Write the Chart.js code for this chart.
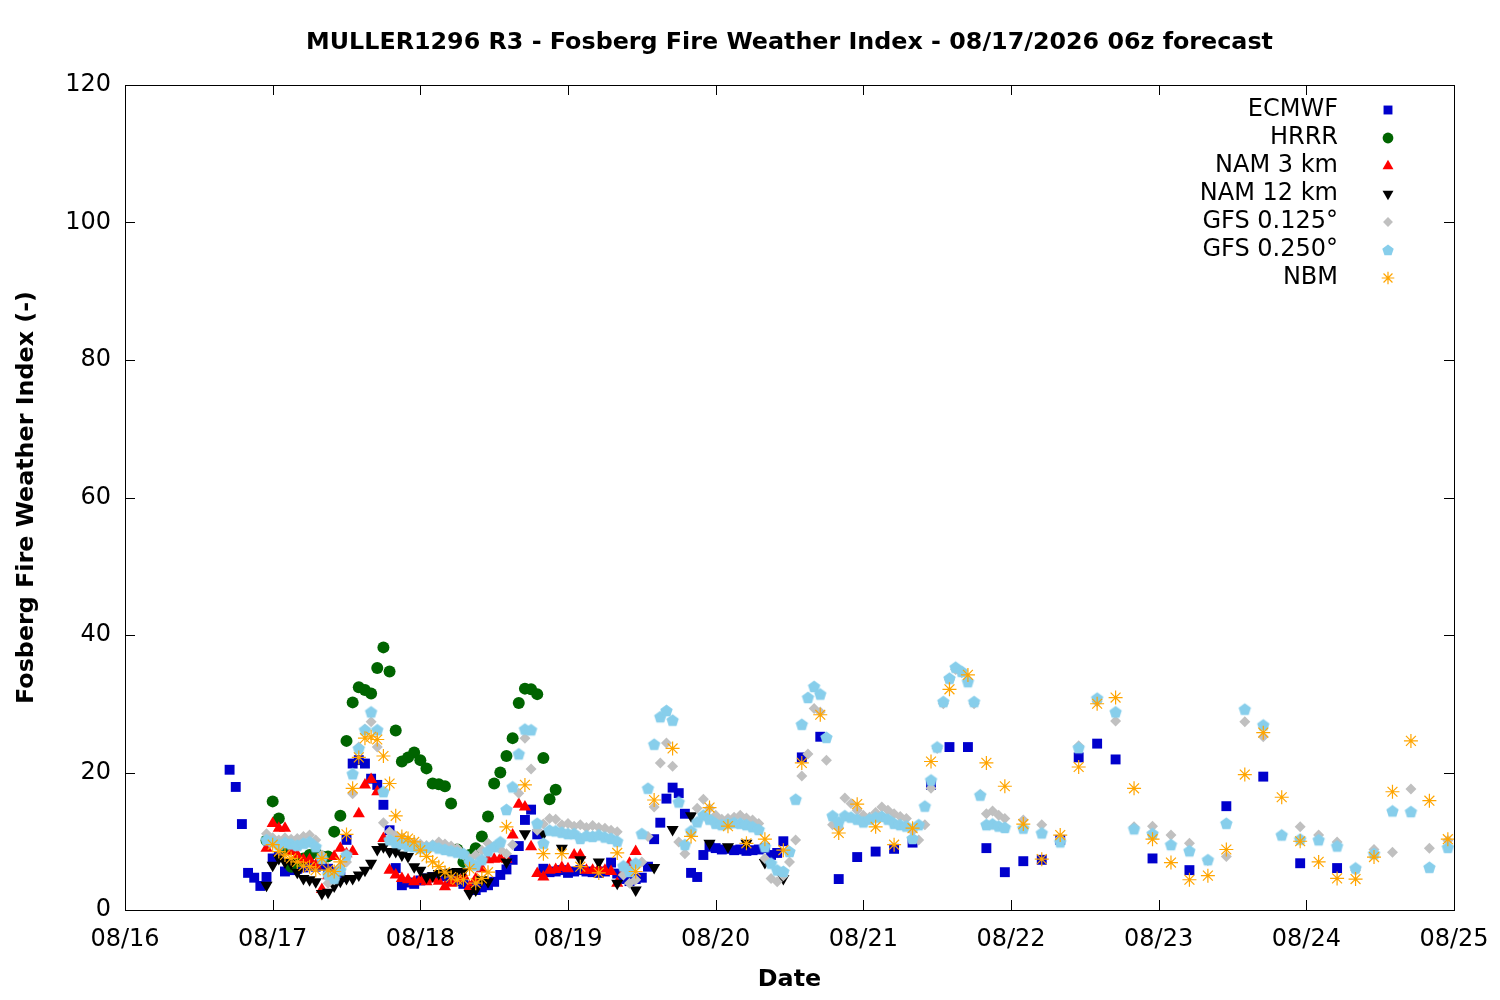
<!DOCTYPE html>
<html>
<head>
<meta charset="utf-8">
<script src="https://cdn.jsdelivr.net/npm/chart.js@4.4.1/dist/chart.umd.min.js"></script>
<style>
  html, body { margin: 0; padding: 0; background: #fff; }
  #wrap { width: 1500px; height: 1000px; }
</style>
</head>
<body>
<div id="wrap"><canvas id="fwi"></canvas></div>
<script>
// forecast hours counted from 08/16 00:00 (local), one tick per day
const dayLabels = ['08/16', '08/17', '08/18', '08/19', '08/20', '08/21', '08/22', '08/23', '08/24', '08/25'];
const yTicks = [0, 20, 40, 60, 80, 100, 120];

// time grids of each model output
function span(from, to, step) {
    const out = [];
    for (let h = from; h <= to; h += step) out.push(h);
    return out;
}

const ecmwfHours = span(17, 107, 1).concat(span(110, 161, 3), span(167, 197, 6));
const ecmwfFwi = [
    20.4, 17.9, 12.5, 5.4, 4.7, 3.5, 4.8, 7.5, 7.8, 5.6,
    5.8, 6.0, 6.2, 6.5, 6.3, 6.5, 6.0, 5.5, 4.8, 10.2,
    21.3, 21.8, 21.3, 19.1, 18.2, 15.3, 11.6, 6.1, 3.6, 4.0,
    3.8, 4.3, 4.6, 4.8, 5.0, 4.9, 4.5, 4.2, 3.8, 3.4,
    2.9, 3.3, 3.6, 4.1, 5.1, 5.9, 7.3, 9.3, 13.1, 14.6,
    11.0, 6.0, 5.5, 5.6, 5.8, 5.4, 5.6, 5.8, 5.6, 5.5,
    5.4, 5.6, 6.9, 5.3, 4.5, 4.2, 4.5, 4.7, 6.3, 10.3,
    12.7, 16.2, 17.8, 17.0, 14.0, 5.4, 4.8, 8.0, 9.2, 9.0,
    8.8, 8.9, 8.7, 8.8, 8.6, 8.7, 8.8, 9.0, 8.0, 8.3,
    10.0,
    22.2, 25.2, 4.5, 7.7, 8.5, 8.9, 9.8, 18.2, 23.7, 23.7,
    9.0, 5.5, 7.1, 7.3, 10.2, 22.2, 24.2, 21.9,
    7.5, 5.8, 15.1, 19.4, 6.8, 6.1
];

const hrrrHours = span(23, 70, 1);
const hrrrFwi = [
    10.1, 15.8, 13.3, 9.0, 6.3, 7.0, 7.5, 8.0, 8.3, 7.8,
    7.8, 11.4, 13.7, 24.6, 30.2, 32.4, 32.0, 31.5, 35.2, 38.2,
    34.7, 26.1, 21.6, 22.2, 22.9, 21.8, 20.6, 18.4, 18.3, 18.0,
    15.5, 8.8, 7.0, 8.0, 9.0, 10.7, 13.6, 18.4, 20.0, 22.4,
    25.0, 30.1, 32.2, 32.1, 31.4, 22.1, 16.1, 17.5
];

const nam3Hours = span(23, 83, 1);
const nam3Fwi = [
    9.0, 12.6, 11.9, 11.9, 8.5, 8.0, 7.3, 7.3, 6.5, 3.0,
    5.0, 7.8, 9.0, 8.2, 8.5, 14.0, 18.2, 19.0, 17.2, 10.4,
    5.8, 5.1, 4.6, 4.4, 4.1, 4.4, 4.1, 4.5, 4.2, 3.4,
    3.9, 4.5, 5.0, 3.4, 4.5, 6.0, 7.3, 7.4, 7.5, 7.4,
    10.9, 15.4, 15.0, 9.2, 5.3, 4.8, 5.8, 5.9, 6.2, 6.0,
    8.0, 8.0, 5.8, 5.8, 6.0, 5.8, 5.6, 3.9, 5.5, 6.8,
    8.5
];

const nam12Hours = span(23, 59, 1).concat(span(62, 107, 3));
const nam12Fwi = [
    3.6, 6.5, 7.5, 7.0, 6.8, 5.5, 4.6, 4.4, 4.1, 2.4,
    2.6, 3.5, 4.2, 4.6, 4.6, 5.1, 5.8, 6.8, 8.8, 9.2,
    8.5, 8.5, 8.0, 7.8, 6.3, 5.8, 4.8, 5.0, 5.3, 5.4,
    5.5, 5.6, 5.6, 2.4, 2.9, 4.4, 4.1,
    7.0, 11.1, 11.1, 9.0, 7.3, 7.0, 3.9, 2.9, 6.2, 11.7,
    13.7, 9.7, 9.2, 9.7, 6.9, 4.6
];

const gfsHours = span(23, 143, 1).concat(span(146, 215, 3));
const gfs0125Fwi = [
    11.1, 10.5, 10.2, 10.5, 10.3, 10.4, 10.7, 10.9, 10.2, 8.0,
    3.9, 4.4, 6.3, 7.0, 16.9, 23.7, 26.3, 27.4, 23.7, 12.7,
    11.4, 10.8, 10.5, 10.1, 9.9, 9.6, 9.4, 9.5, 9.9, 9.6,
    9.3, 9.0, 8.0, 7.5, 8.0, 8.7, 9.7, 9.2, 8.8, 8.2,
    9.5, 17.0, 25.0, 20.5, 11.6, 12.5, 13.3, 13.2, 12.4, 12.6,
    12.2, 12.4, 12.0, 12.3, 12.0, 11.9, 11.6, 11.4, 5.1, 3.9,
    4.4, 7.0, 10.7, 15.0, 21.4, 24.3, 20.9, 9.9, 8.2, 11.4,
    14.8, 16.1, 14.8, 13.8, 13.2, 13.3, 13.5, 13.8, 13.4, 13.1,
    12.6, 7.5, 4.6, 4.1, 5.0, 7.0, 10.2, 19.5, 22.7, 29.3,
    28.8, 21.8, 12.4, 12.0, 16.3, 15.5, 14.5, 13.8, 13.5, 14.2,
    15.0, 14.5, 14.0, 13.6, 13.3, 11.5, 10.2, 12.4, 17.7, 23.5,
    30.0, 33.5, 35.0, 34.5, 33.5, 30.0, 16.8, 14.0, 14.4, 13.8,
    13.3,
    13.1, 12.4, 10.4, 23.9, 30.3, 27.5, 12.1, 12.2, 10.9, 9.7,
    7.2, 7.8, 27.4, 25.2, 10.9, 12.1, 10.9, 9.9, 5.8, 8.8,
    8.4, 17.6, 9.0, 10.1
];
const gfs0250Fwi = [
    10.2, 9.9, 9.5, 9.8, 9.6, 9.4, 9.7, 9.9, 9.2, 7.5,
    5.2, 4.6, 5.8, 8.0, 19.8, 23.5, 26.2, 28.8, 26.2, 17.2,
    10.2, 9.8, 9.6, 9.3, 9.2, 9.0, 9.1, 9.3, 9.0, 8.8,
    8.6, 8.4, 8.2, 7.0, 6.5, 7.3, 8.6, 9.2, 9.9, 14.6,
    17.9, 22.7, 26.3, 26.2, 12.6, 9.7, 11.6, 11.5, 11.3, 11.1,
    11.1, 10.4, 10.8, 10.7, 10.9, 10.6, 10.4, 10.0, 6.4, 5.6,
    6.8, 11.1, 17.7, 24.1, 28.1, 29.0, 27.6, 15.7, 9.5, 11.5,
    12.8, 13.8, 13.2, 12.6, 12.4, 12.6, 12.7, 12.6, 12.4, 12.1,
    11.7, 9.2, 6.8, 5.8, 5.6, 8.5, 16.1, 27.0, 30.9, 32.5,
    31.4, 25.1, 13.7, 12.8, 13.7, 13.5, 13.2, 12.8, 13.2, 13.5,
    13.6, 13.2, 12.6, 12.4, 12.2, 10.4, 12.4, 15.1, 18.9, 23.7,
    30.3, 33.7, 35.3, 34.7, 33.2, 30.3, 16.7, 12.4, 12.5, 12.2,
    12.0,
    11.9, 11.2, 9.9, 23.6, 30.8, 28.8, 11.8, 11.1, 9.5, 8.6,
    7.3, 12.6, 29.2, 26.9, 10.9, 10.3, 10.2, 9.3, 6.1, 8.2,
    14.4, 14.3, 6.2, 9.1
];

const nbmHours = span(24, 59, 1).concat(span(62, 215, 3));
const nbmFwi = [
    9.5, 8.5, 8.0, 7.5, 7.0, 6.4, 6.3, 5.8, 7.5, 5.8,
    5.6, 7.0, 11.0, 17.7, 22.2, 25.0, 25.2, 24.8, 22.4, 18.4,
    13.7, 10.7, 10.4, 9.9, 8.7, 7.8, 7.0, 6.3, 5.5, 4.8,
    4.4, 4.4, 6.0, 3.9, 4.6, 5.5,
    12.1, 18.2, 8.2, 8.2, 6.3, 5.4, 8.3, 5.6, 16.0, 23.5,
    10.7, 14.9, 12.2, 9.7, 10.3, 8.7, 21.4, 28.4, 11.2, 15.4,
    12.1, 9.5, 11.9, 21.6, 32.1, 34.2, 21.4, 18.0, 12.5, 7.4,
    10.9, 20.8, 30.0, 30.9, 17.7, 10.3, 6.9, 4.4, 5.0, 8.8,
    19.7, 25.8, 16.4, 10.0, 7.0, 4.6, 4.5, 7.7, 17.2, 24.6,
    15.9, 10.3
];

// pentagon marker for GFS 0.250
function pentagon(r, color) {
    const c = document.createElement('canvas');
    const s = Math.ceil(r * 2) + 2;
    c.width = s; c.height = s;
    const g = c.getContext('2d');
    g.fillStyle = color;
    g.beginPath();
    for (let i = 0; i < 5; i++) {
        const a = -Math.PI / 2 + i * 2 * Math.PI / 5;
        const px = s / 2 + r * Math.cos(a);
        const py = s / 2 + 0.5 + r * Math.sin(a);
        if (i === 0) g.moveTo(px, py); else g.lineTo(px, py);
    }
    g.closePath();
    g.fill();
    return c;
}

function pairs(hours, values) {
    return values.map((v, i) => ({ x: hours[i], y: v }));
}

const series = [
    { label: 'ECMWF', data: pairs(ecmwfHours, ecmwfFwi), color: '#0000cc', style: 'rect', radius: 7, rotation: 0, order: 6 },
    { label: 'HRRR', data: pairs(hrrrHours, hrrrFwi), color: '#006400', style: 'circle', radius: 6, rotation: 0, order: 5 },
    { label: 'NAM 3 km', data: pairs(nam3Hours, nam3Fwi), color: '#ff0000', style: 'triangle', radius: 7, rotation: 0, order: 4 },
    { label: 'NAM 12 km', data: pairs(nam12Hours, nam12Fwi), color: '#000000', style: 'triangle', radius: 7, rotation: 180, order: 3 },
    { label: 'GFS 0.125°', data: pairs(gfsHours, gfs0125Fwi), color: '#c0c0c0', style: 'rectRot', radius: 5.5, rotation: 0, order: 2 },
    { label: 'GFS 0.250°', data: pairs(gfsHours, gfs0250Fwi), color: '#87ceeb', style: pentagon(6.5, '#87ceeb'), radius: 6.5, rotation: 0, order: 1 },
    { label: 'NBM', data: pairs(nbmHours, nbmFwi), color: '#ffa500', style: 'star', radius: 7, rotation: 0, order: 0 }
];

const FONT = '"DejaVu Sans", sans-serif';
const keyIcon = pentagon(6, '#87ceeb');

// frame, inward ticks, titles and gnuplot-like key
const decor = {
    id: 'decor',
    afterDraw(chart) {
        const { ctx, chartArea: a, scales } = chart;
        ctx.save();
        ctx.strokeStyle = '#000';
        ctx.lineWidth = 1;
        ctx.strokeRect(a.left + 0.5, a.top + 0.5, a.right - a.left, a.bottom - a.top);
        ctx.beginPath();
        yTicks.forEach(v => {
            const y = Math.round(scales.y.getPixelForValue(v)) + 0.5;
            ctx.moveTo(a.left, y); ctx.lineTo(a.left + 10, y);
            ctx.moveTo(a.right, y); ctx.lineTo(a.right - 10, y);
        });
        dayLabels.forEach((d, i) => {
            const x = Math.round(scales.x.getPixelForValue(i * 24)) + 0.5;
            ctx.moveTo(x, a.bottom); ctx.lineTo(x, a.bottom - 10);
            ctx.moveTo(x, a.top); ctx.lineTo(x, a.top + 10);
        });
        ctx.stroke();

        ctx.fillStyle = '#000';
        ctx.textAlign = 'center';
        ctx.textBaseline = 'middle';
        ctx.font = 'bold 23.8px ' + FONT;
        const cx = (a.left + a.right) / 2;
        ctx.fillText('MULLER1296 R3 - Fosberg Fire Weather Index - 08/17/2026 06z forecast', cx, 43);
        ctx.fillText('Date', cx, 980);
        ctx.save();
        ctx.translate(27, (a.top + a.bottom) / 2);
        ctx.rotate(-Math.PI / 2);
        ctx.fillText('Fosberg Fire Weather Index (-)', 0, 0);
        ctx.restore();

        // key: text right-aligned, marker to its right
        ctx.font = '24px ' + FONT;
        ctx.textAlign = 'right';
        series.forEach((s, i) => {
            const y = a.top + 25 + i * 28;
            ctx.fillStyle = '#000';
            ctx.fillText(s.label, a.right - 116, y);
            ctx.fillStyle = s.color;
            ctx.strokeStyle = s.color;
            ctx.lineWidth = 1.2;
            Chart.helpers.drawPoint(ctx, {
                pointStyle: typeof s.style === 'string' ? s.style : keyIcon,
                radius: s.radius * 0.9,
                rotation: s.rotation,
                borderWidth: s.style === 'star' ? 1.2 : 0
            }, a.right - 66, y);
        });
        ctx.restore();
    }
};

Chart.defaults.font.family = FONT;
Chart.defaults.color = '#000';

new Chart(document.getElementById('fwi'), {
    type: 'scatter',
    data: {
        datasets: series.map(s => ({
            label: s.label,
            data: s.data,
            order: s.order,
            pointStyle: s.style,
            pointRadius: s.radius,
            pointRotation: s.rotation,
            backgroundColor: s.color,
            borderColor: s.color,
            pointBorderWidth: s.style === 'star' ? 1.2 : 0,
            showLine: false
        }))
    },
    options: {
        responsive: true,
        maintainAspectRatio: false,
        animation: false,
        events: [],
        layout: { padding: { top: 85, right: 46, left: 0, bottom: 0 } },
        plugins: {
            legend: { display: false },
            tooltip: { enabled: false }
        },
        scales: {
            x: {
                type: 'linear',
                min: 0,
                max: 216,
                afterFit: scale => {
                    scale.height = 90;
                    scale.paddingLeft = 0;
                    scale.paddingRight = 0;
                },
                grid: { display: false, drawTicks: false },
                border: { display: false },
                ticks: {
                    stepSize: 24,
                    padding: 15,
                    maxRotation: 0,
                    font: { size: 24 },
                    callback: v => dayLabels[v / 24]
                }
            },
            y: {
                min: 0,
                max: 120,
                afterFit: scale => { scale.width = 125; },
                grid: { display: false, drawTicks: false },
                border: { display: false },
                ticks: {
                    stepSize: 20,
                    padding: 14,
                    font: { size: 24 }
                }
            }
        }
    },
    plugins: [decor]
});
</script>
</body>
</html>
